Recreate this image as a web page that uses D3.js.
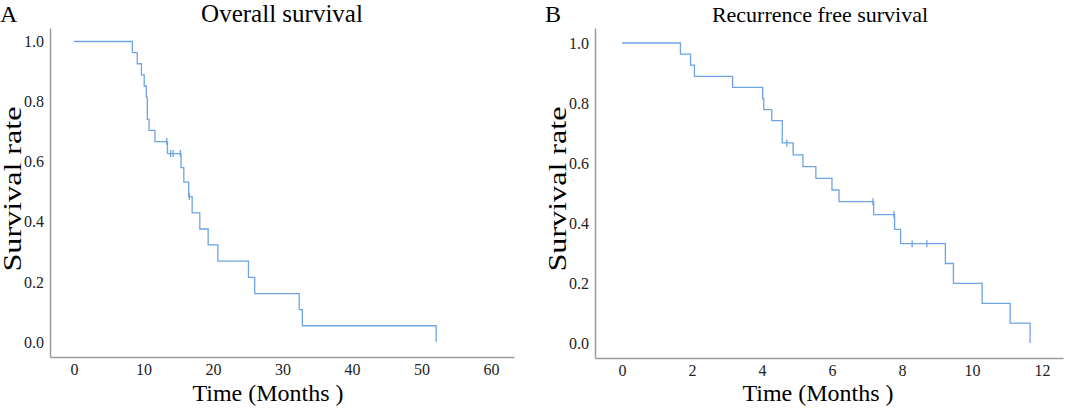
<!DOCTYPE html>
<html>
<head>
<meta charset="utf-8">
<script src="https://cdn.jsdelivr.net/npm/d3@7"></script>
<style>
  body { margin: 0; background: #fff; }
  svg { font-family: "Liberation Serif", "Times New Roman", serif; }
</style>
</head>
<body>
<svg width="1080" height="419"></svg>
<script>
// Overall survival (panel A)
var osTime = [0, 8.4, 9.1, 9.7, 10.1, 10.4, 10.55, 10.8, 11.65, 13.45, 15.4, 15.8, 16.5, 17.0, 18.1, 19.3, 20.7, 25.1, 26.0, 32.4, 32.85, 52.1]
var osSurv = [1, 0.963, 0.926, 0.889, 0.852, 0.815, 0.741, 0.704, 0.667, 0.627, 0.580, 0.532, 0.484, 0.430, 0.376, 0.323, 0.269, 0.215, 0.161, 0.108, 0.054, 0]
var osCensor = [13.35, 13.9, 14.25, 15.3, 16.6]
var osTicks = [0, 10, 20, 30, 40, 50, 60]

// Recurrence free survival (panel B)
var rfsTime = [0, 1.67, 1.96, 2.07, 3.16, 4.02, 4.05, 4.28, 4.58, 4.89, 5.17, 5.54, 6.0, 6.2, 7.19, 7.79, 7.96, 9.24, 9.47, 10.29, 11.09, 11.66]
var rfsSurv = [1, 0.963, 0.926, 0.889, 0.852, 0.815, 0.778, 0.741, 0.667, 0.627, 0.588, 0.549, 0.510, 0.471, 0.428, 0.379, 0.331, 0.265, 0.199, 0.132, 0.066, 0]
var rfsCensor = [4.71, 7.17, 7.77, 8.29, 8.71]
var rfsTicks = [0, 2, 4, 6, 8, 10, 12]

var yTicks = [0, 0.2, 0.4, 0.6, 0.8, 1.0]

var svg = d3.select('svg')
var lineColor = '#6ea4e4'
var axisColor = '#9c9c9c'
var serif = '"Liberation Serif", "Times New Roman", serif'

function panel(opt) {
    var x = d3.scaleLinear().domain(opt.xDomain).range(opt.xRange)
    var y = d3.scaleLinear().domain(opt.yDomain).range(opt.yRange)
    var g = svg.append('g')

    // axes
    g.append('g')
        .attr('transform', 'translate(' + opt.xRange[0] + ',0)')
        .call(d3.axisLeft(y).tickValues(yTicks).tickSize(0).tickPadding(6).tickFormat(d3.format('.1f')))
        .attr('font-family', serif)
        .attr('font-size', 16)
    g.append('g')
        .attr('transform', 'translate(0,' + opt.yRange[0] + ')')
        .call(d3.axisBottom(x).tickValues(opt.ticks).tickSize(0).tickPadding(7))
        .attr('font-family', serif)
        .attr('font-size', 16)
    g.selectAll('.domain').attr('stroke', axisColor).attr('stroke-width', 1.5)
    g.selectAll('.tick text').attr('fill', '#222')

    // step curve
    var pts = opt.time.map(function(t, i) { return [t, opt.surv[i]] })
    var line = d3.line()
        .x(function(d) { return x(d[0]) })
        .y(function(d) { return y(d[1]) })
        .curve(d3.curveStepAfter)
    g.append('path')
        .datum(pts)
        .attr('d', line)
        .style('fill', 'none')
        .style('stroke', lineColor)
        .style('stroke-width', 1.3)

    // censor marks
    function survAt(t) {
        var s = 1
        opt.time.forEach(function(e, i) { if (e <= t) s = opt.surv[i] })
        return s
    }
    g.selectAll('line.censor')
        .data(opt.censor)
        .enter()
        .append('line')
        .attr('class', 'censor')
        .attr('x1', function(d) { return x(d) })
        .attr('x2', function(d) { return x(d) })
        .attr('y1', function(d) { return y(survAt(d)) - 3.5 })
        .attr('y2', function(d) { return y(survAt(d)) + 3.5 })
        .style('stroke', lineColor)
        .style('stroke-width', 1.3)

    // letter + title
    g.append('text')
        .attr('x', opt.letterX)
        .attr('y', 22)
        .style('font-size', '24px')
        .text(opt.letter)
    g.append('text')
        .attr('x', opt.titleX)
        .attr('y', 22)
        .attr('text-anchor', 'middle')
        .style('font-size', opt.titleSize + 'px')
        .text(opt.title)

    // axis labels
    g.append('text')
        .attr('x', opt.xLabelX)
        .attr('y', 401)
        .attr('text-anchor', 'middle')
        .style('font-size', '24px')
        .text('Time (Months )')
    g.append('text')
        .attr('text-anchor', 'middle')
        .attr('transform', 'translate(' + opt.yLabelX + ',189)rotate(-90)')
        .attr('textLength', 165)
        .attr('lengthAdjust', 'spacingAndGlyphs')
        .style('font-size', '25px')
        .text('Survival rate')
}

panel({
    time: osTime, surv: osSurv, censor: osCensor, ticks: osTicks,
    xDomain: [-3.45, 63.3], xRange: [50, 514],
    yDomain: [-0.05, 1.045], yRange: [357, 28],
    letter: 'A', letterX: 0, title: 'Overall survival', titleX: 282, titleSize: 25,
    xLabelX: 268, yLabelX: 21
})

panel({
    time: rfsTime, surv: rfsSurv, censor: rfsCensor, ticks: rfsTicks,
    xDomain: [-0.77, 12.6], xRange: [595, 1063],
    yDomain: [-0.05, 1.05], yRange: [358, 28],
    letter: 'B', letterX: 545, title: 'Recurrence free survival', titleX: 820, titleSize: 22,
    xLabelX: 818, yLabelX: 566
})
</script>
</body>
</html>
